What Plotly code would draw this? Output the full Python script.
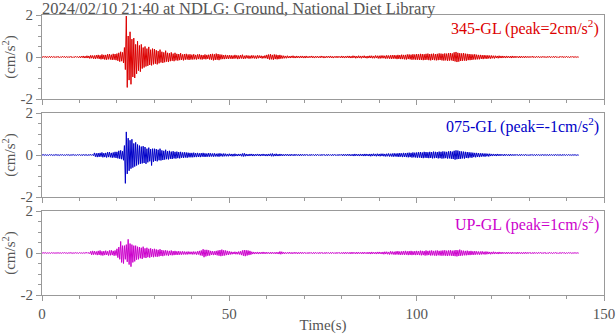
import plotly.graph_objects as go
from plotly.subplots import make_subplots

TITLE = '2024/02/10 21:40 at NDLG: Ground, National Diet Library'
DT = 0.5  # s, each value below is the max (upper) / min (lower) of one 0.5 s window

# 345-GL component (cm/s^2)
upper_345 = [
    0.02, 0.03, 0.03, 0.02, 0.03, 0.03, 0.02, 0.02, 0.03, 0.02, 0.02, 0.03, 0.03, 0.02, 0.02, 0.03, 0.02, 0.02, 0.03, 0.02,
    0.03, 0.04, 0.05, 0.04, 0.06, 0.05, 0.08, 0.07, 0.07, 0.09, 0.10, 0.08, 0.12, 0.10, 0.10, 0.13, 0.14, 0.11, 0.15, 0.14,
    0.16, 0.20, 0.25, 0.22, 0.45, 1.95, 1.00, 1.20, 0.85, 0.90, 0.60, 0.75, 0.55, 0.60, 0.45, 0.50, 0.40, 0.48, 0.35, 0.40,
    0.38, 0.32, 0.28, 0.35, 0.25, 0.22, 0.30, 0.20, 0.18, 0.22, 0.16, 0.20, 0.15, 0.14, 0.18, 0.12, 0.14, 0.15, 0.12, 0.13,
    0.11, 0.13, 0.10, 0.12, 0.13, 0.10, 0.09, 0.12, 0.10, 0.11, 0.14, 0.15, 0.13, 0.16, 0.14, 0.12, 0.11, 0.09, 0.10, 0.08,
    0.09, 0.08, 0.07, 0.10, 0.08, 0.07, 0.09, 0.11, 0.06, 0.08, 0.07, 0.06, 0.08, 0.07, 0.06, 0.08, 0.07, 0.06, 0.05, 0.07,
    0.10, 0.12, 0.13, 0.10, 0.12, 0.11, 0.09, 0.10, 0.07, 0.06, 0.05, 0.06, 0.04, 0.05, 0.06, 0.04, 0.05, 0.04, 0.05, 0.05,
    0.04, 0.05, 0.03, 0.04, 0.05, 0.03, 0.04, 0.04, 0.03, 0.05, 0.04, 0.03, 0.04, 0.04, 0.05, 0.03, 0.03, 0.04, 0.04, 0.03,
    0.05, 0.04, 0.04, 0.05, 0.05, 0.04, 0.06, 0.05, 0.04, 0.06, 0.05, 0.05, 0.06, 0.04, 0.05, 0.06, 0.06, 0.05, 0.07, 0.06,
    0.06, 0.07, 0.07, 0.06, 0.08, 0.07, 0.08, 0.09, 0.09, 0.08, 0.10, 0.09, 0.11, 0.10, 0.10, 0.12, 0.12, 0.11, 0.13, 0.12,
    0.14, 0.13, 0.15, 0.14, 0.13, 0.15, 0.16, 0.14, 0.15, 0.16, 0.14, 0.15, 0.17, 0.16, 0.15, 0.17, 0.16, 0.18, 0.19, 0.17,
    0.22, 0.24, 0.20, 0.18, 0.17, 0.19, 0.16, 0.15, 0.14, 0.13, 0.12, 0.13, 0.11, 0.10, 0.10, 0.09, 0.09, 0.08, 0.08, 0.07,
    0.07, 0.06, 0.06, 0.05, 0.06, 0.05, 0.05, 0.04, 0.05, 0.04, 0.04, 0.05, 0.04, 0.04, 0.03, 0.04, 0.04, 0.03, 0.04, 0.03,
    0.03, 0.03, 0.04, 0.02, 0.03, 0.03, 0.02, 0.03, 0.03, 0.02, 0.03, 0.03, 0.02, 0.03, 0.03, 0.02, 0.02, 0.03, 0.03, 0.02,
    0.03, 0.02, 0.02, 0.03, 0.02, 0.02, 0.01,
]
lower_345 = [
    -0.02, -0.02, -0.03, -0.02, -0.03, -0.02, -0.02, -0.03, -0.02, -0.03, -0.02, -0.02, -0.03, -0.02, -0.03, -0.02, -0.03, -0.02, -0.02, -0.03,
    -0.04, -0.03, -0.05, -0.05, -0.05, -0.07, -0.06, -0.08, -0.09, -0.07, -0.09, -0.11, -0.10, -0.12, -0.13, -0.11, -0.12, -0.14, -0.13, -0.15,
    -0.18, -0.22, -0.20, -0.28, -0.60, -1.45, -1.10, -1.30, -0.95, -1.00, -0.80, -0.65, -0.70, -0.55, -0.50, -0.45, -0.42, -0.38, -0.40, -0.35,
    -0.32, -0.35, -0.30, -0.26, -0.28, -0.25, -0.22, -0.24, -0.20, -0.18, -0.20, -0.16, -0.17, -0.15, -0.14, -0.16, -0.13, -0.12, -0.14, -0.12,
    -0.12, -0.11, -0.12, -0.10, -0.11, -0.12, -0.10, -0.11, -0.09, -0.12, -0.13, -0.16, -0.14, -0.13, -0.15, -0.11, -0.10, -0.10, -0.09, -0.09,
    -0.08, -0.09, -0.08, -0.07, -0.10, -0.08, -0.07, -0.09, -0.08, -0.06, -0.08, -0.07, -0.06, -0.07, -0.08, -0.06, -0.05, -0.07, -0.06, -0.06,
    -0.09, -0.12, -0.11, -0.13, -0.10, -0.11, -0.10, -0.08, -0.07, -0.06, -0.06, -0.05, -0.05, -0.04, -0.05, -0.05, -0.04, -0.05, -0.04, -0.05,
    -0.05, -0.04, -0.04, -0.03, -0.04, -0.05, -0.03, -0.04, -0.04, -0.03, -0.05, -0.04, -0.03, -0.04, -0.04, -0.05, -0.03, -0.04, -0.03, -0.04,
    -0.04, -0.05, -0.04, -0.04, -0.05, -0.05, -0.04, -0.06, -0.05, -0.05, -0.06, -0.04, -0.05, -0.06, -0.05, -0.05, -0.06, -0.06, -0.05, -0.07,
    -0.07, -0.06, -0.06, -0.08, -0.07, -0.08, -0.09, -0.08, -0.08, -0.10, -0.09, -0.10, -0.10, -0.11, -0.12, -0.10, -0.11, -0.13, -0.12, -0.13,
    -0.13, -0.14, -0.14, -0.15, -0.14, -0.13, -0.15, -0.16, -0.14, -0.15, -0.16, -0.15, -0.14, -0.16, -0.17, -0.16, -0.18, -0.17, -0.16, -0.19,
    -0.21, -0.24, -0.22, -0.19, -0.18, -0.17, -0.18, -0.15, -0.15, -0.14, -0.12, -0.12, -0.11, -0.11, -0.09, -0.10, -0.08, -0.09, -0.07, -0.08,
    -0.06, -0.07, -0.05, -0.06, -0.05, -0.05, -0.04, -0.05, -0.04, -0.04, -0.05, -0.04, -0.04, -0.03, -0.04, -0.04, -0.03, -0.04, -0.03, -0.03,
    -0.03, -0.02, -0.03, -0.03, -0.02, -0.03, -0.03, -0.02, -0.03, -0.03, -0.02, -0.03, -0.02, -0.03, -0.02, -0.03, -0.02, -0.02, -0.03, -0.02,
    -0.02, -0.03, -0.02, -0.02, -0.02, -0.02, -0.01,
]

# 075-GL component
upper_075 = [
    0.02, 0.02, 0.02, 0.01, 0.02, 0.02, 0.01, 0.02, 0.02, 0.01, 0.02, 0.02, 0.01, 0.02, 0.02, 0.01, 0.02, 0.02, 0.01, 0.02,
    0.02, 0.02, 0.03, 0.02, 0.02, 0.03, 0.03, 0.02, 0.10, 0.08, 0.09, 0.10, 0.12, 0.09, 0.10, 0.13, 0.14, 0.10, 0.12, 0.15,
    0.15, 0.20, 0.22, 0.18, 0.45, 1.10, 0.80, 0.70, 0.75, 0.55, 0.60, 0.50, 0.45, 0.40, 0.42, 0.38, 0.30, 0.35, 0.28, 0.30,
    0.30, 0.28, 0.25, 0.30, 0.22, 0.20, 0.25, 0.18, 0.20, 0.16, 0.18, 0.15, 0.16, 0.14, 0.15, 0.12, 0.13, 0.12, 0.11, 0.10,
    0.10, 0.11, 0.09, 0.10, 0.08, 0.09, 0.10, 0.08, 0.07, 0.09, 0.08, 0.07, 0.08, 0.06, 0.07, 0.08, 0.06, 0.07, 0.06, 0.05,
    0.06, 0.05, 0.05, 0.06, 0.04, 0.05, 0.05, 0.07, 0.08, 0.05, 0.04, 0.05, 0.05, 0.04, 0.04, 0.05, 0.04, 0.04, 0.05, 0.04,
    0.04, 0.05, 0.06, 0.07, 0.05, 0.06, 0.04, 0.05, 0.04, 0.03, 0.04, 0.04, 0.03, 0.04, 0.03, 0.04, 0.03, 0.03, 0.04, 0.03,
    0.03, 0.03, 0.02, 0.03, 0.03, 0.02, 0.03, 0.03, 0.02, 0.03, 0.03, 0.02, 0.03, 0.03, 0.02, 0.03, 0.03, 0.02, 0.03, 0.03,
    0.03, 0.04, 0.03, 0.04, 0.04, 0.03, 0.04, 0.05, 0.04, 0.04, 0.05, 0.04, 0.05, 0.05, 0.04, 0.05, 0.05, 0.06, 0.05, 0.06,
    0.05, 0.06, 0.06, 0.05, 0.06, 0.07, 0.06, 0.07, 0.08, 0.07, 0.08, 0.09, 0.08, 0.10, 0.09, 0.10, 0.11, 0.10, 0.12, 0.11,
    0.12, 0.13, 0.14, 0.12, 0.15, 0.14, 0.13, 0.15, 0.14, 0.16, 0.15, 0.14, 0.16, 0.15, 0.17, 0.16, 0.15, 0.17, 0.18, 0.16,
    0.20, 0.22, 0.21, 0.18, 0.17, 0.16, 0.15, 0.14, 0.13, 0.12, 0.11, 0.10, 0.10, 0.09, 0.08, 0.08, 0.07, 0.07, 0.06, 0.06,
    0.05, 0.05, 0.04, 0.05, 0.04, 0.04, 0.03, 0.04, 0.03, 0.03, 0.04, 0.03, 0.03, 0.03, 0.02, 0.03, 0.03, 0.02, 0.03, 0.02,
    0.02, 0.03, 0.02, 0.02, 0.03, 0.02, 0.02, 0.03, 0.02, 0.02, 0.02, 0.03, 0.02, 0.02, 0.03, 0.02, 0.02, 0.02, 0.03, 0.02,
    0.02, 0.02, 0.01, 0.02, 0.02, 0.01, 0.01,
]
lower_075 = [
    -0.01, -0.02, -0.02, -0.02, -0.01, -0.02, -0.02, -0.01, -0.02, -0.02, -0.01, -0.02, -0.02, -0.01, -0.02, -0.02, -0.01, -0.02, -0.02, -0.01,
    -0.02, -0.03, -0.02, -0.02, -0.03, -0.02, -0.02, -0.03, -0.08, -0.10, -0.09, -0.08, -0.11, -0.10, -0.12, -0.10, -0.11, -0.13, -0.12, -0.14,
    -0.16, -0.18, -0.20, -0.25, -1.35, -0.90, -0.75, -0.65, -0.60, -0.55, -0.50, -0.45, -0.42, -0.40, -0.38, -0.42, -0.35, -0.30, -0.50, -0.32,
    -0.28, -0.30, -0.25, -0.26, -0.24, -0.22, -0.20, -0.21, -0.18, -0.19, -0.16, -0.17, -0.15, -0.16, -0.13, -0.14, -0.12, -0.13, -0.11, -0.11,
    -0.11, -0.10, -0.10, -0.09, -0.10, -0.08, -0.09, -0.09, -0.08, -0.08, -0.07, -0.08, -0.07, -0.07, -0.08, -0.06, -0.07, -0.06, -0.06, -0.06,
    -0.05, -0.06, -0.06, -0.05, -0.05, -0.04, -0.06, -0.07, -0.06, -0.05, -0.05, -0.04, -0.05, -0.05, -0.04, -0.04, -0.05, -0.04, -0.04, -0.05,
    -0.05, -0.04, -0.06, -0.06, -0.05, -0.05, -0.05, -0.04, -0.04, -0.04, -0.03, -0.04, -0.04, -0.03, -0.04, -0.03, -0.03, -0.04, -0.03, -0.03,
    -0.03, -0.02, -0.03, -0.03, -0.02, -0.03, -0.03, -0.02, -0.03, -0.03, -0.02, -0.03, -0.03, -0.02, -0.03, -0.03, -0.02, -0.03, -0.03, -0.02,
    -0.04, -0.03, -0.04, -0.03, -0.04, -0.04, -0.05, -0.04, -0.04, -0.05, -0.04, -0.05, -0.05, -0.04, -0.05, -0.06, -0.05, -0.05, -0.06, -0.05,
    -0.06, -0.05, -0.06, -0.07, -0.06, -0.07, -0.07, -0.08, -0.07, -0.08, -0.09, -0.08, -0.10, -0.09, -0.10, -0.11, -0.10, -0.12, -0.11, -0.12,
    -0.13, -0.12, -0.14, -0.15, -0.13, -0.14, -0.15, -0.14, -0.16, -0.15, -0.14, -0.16, -0.15, -0.17, -0.16, -0.15, -0.17, -0.16, -0.18, -0.19,
    -0.22, -0.20, -0.19, -0.18, -0.16, -0.17, -0.14, -0.15, -0.12, -0.13, -0.10, -0.11, -0.09, -0.10, -0.08, -0.07, -0.08, -0.06, -0.07, -0.05,
    -0.05, -0.04, -0.05, -0.04, -0.04, -0.03, -0.04, -0.03, -0.03, -0.04, -0.03, -0.03, -0.03, -0.02, -0.03, -0.03, -0.02, -0.03, -0.02, -0.03,
    -0.03, -0.02, -0.02, -0.03, -0.02, -0.02, -0.03, -0.02, -0.02, -0.02, -0.03, -0.02, -0.02, -0.03, -0.02, -0.02, -0.02, -0.03, -0.02, -0.02,
    -0.02, -0.01, -0.02, -0.02, -0.01, -0.02, -0.01,
]

# UP-GL component
upper_up = [
    0.01, 0.02, 0.02, 0.01, 0.01, 0.02, 0.01, 0.01, 0.02, 0.01, 0.01, 0.02, 0.02, 0.01, 0.01, 0.02, 0.01, 0.01, 0.02, 0.01,
    0.02, 0.01, 0.02, 0.02, 0.03, 0.02, 0.08, 0.10, 0.09, 0.07, 0.10, 0.12, 0.08, 0.09, 0.11, 0.08, 0.12, 0.13, 0.10, 0.12,
    0.20, 0.28, 0.55, 0.35, 0.35, 0.40, 0.65, 0.45, 0.40, 0.35, 0.35, 0.30, 0.28, 0.25, 0.30, 0.22, 0.25, 0.20, 0.22, 0.18,
    0.20, 0.17, 0.15, 0.18, 0.14, 0.12, 0.13, 0.11, 0.10, 0.12, 0.09, 0.10, 0.08, 0.09, 0.07, 0.08, 0.07, 0.06, 0.07, 0.06,
    0.06, 0.07, 0.06, 0.08, 0.10, 0.12, 0.18, 0.15, 0.15, 0.13, 0.10, 0.09, 0.08, 0.10, 0.12, 0.14, 0.16, 0.13, 0.12, 0.10,
    0.08, 0.06, 0.05, 0.06, 0.05, 0.07, 0.08, 0.12, 0.14, 0.13, 0.12, 0.10, 0.06, 0.05, 0.04, 0.05, 0.04, 0.04, 0.05, 0.04,
    0.04, 0.03, 0.04, 0.04, 0.03, 0.04, 0.04, 0.07, 0.06, 0.04, 0.03, 0.03, 0.04, 0.03, 0.03, 0.04, 0.03, 0.03, 0.04, 0.03,
    0.03, 0.02, 0.03, 0.03, 0.02, 0.03, 0.03, 0.02, 0.03, 0.03, 0.02, 0.03, 0.03, 0.02, 0.03, 0.03, 0.02, 0.03, 0.03, 0.02,
    0.03, 0.03, 0.04, 0.03, 0.03, 0.04, 0.04, 0.03, 0.04, 0.04, 0.03, 0.04, 0.04, 0.03, 0.04, 0.04, 0.05, 0.04, 0.04, 0.05,
    0.05, 0.04, 0.05, 0.06, 0.06, 0.05, 0.08, 0.07, 0.06, 0.08, 0.09, 0.07, 0.08, 0.09, 0.10, 0.08, 0.09, 0.10, 0.08, 0.09,
    0.10, 0.09, 0.11, 0.10, 0.09, 0.12, 0.10, 0.11, 0.12, 0.10, 0.11, 0.12, 0.10, 0.11, 0.12, 0.13, 0.11, 0.12, 0.13, 0.11,
    0.12, 0.14, 0.13, 0.16, 0.12, 0.11, 0.10, 0.11, 0.09, 0.10, 0.08, 0.09, 0.08, 0.07, 0.07, 0.08, 0.06, 0.07, 0.06, 0.05,
    0.05, 0.06, 0.05, 0.04, 0.05, 0.04, 0.04, 0.03, 0.04, 0.04, 0.03, 0.04, 0.03, 0.03, 0.04, 0.03, 0.03, 0.03, 0.04, 0.03,
    0.03, 0.02, 0.03, 0.03, 0.02, 0.03, 0.03, 0.02, 0.03, 0.02, 0.02, 0.03, 0.02, 0.02, 0.03, 0.02, 0.02, 0.02, 0.03, 0.02,
    0.02, 0.02, 0.02, 0.01, 0.02, 0.01, 0.01,
]
lower_up = [
    -0.01, -0.01, -0.02, -0.01, -0.02, -0.01, -0.01, -0.02, -0.01, -0.01, -0.02, -0.01, -0.01, -0.02, -0.01, -0.01, -0.02, -0.01, -0.01, -0.02,
    -0.01, -0.02, -0.02, -0.01, -0.02, -0.03, -0.09, -0.08, -0.07, -0.10, -0.09, -0.11, -0.12, -0.10, -0.09, -0.12, -0.11, -0.10, -0.13, -0.12,
    -0.22, -0.30, -0.45, -0.50, -0.30, -0.42, -0.55, -0.65, -0.45, -0.40, -0.32, -0.30, -0.25, -0.28, -0.22, -0.24, -0.20, -0.22, -0.18, -0.20,
    -0.17, -0.18, -0.16, -0.14, -0.15, -0.12, -0.11, -0.13, -0.10, -0.11, -0.10, -0.09, -0.09, -0.08, -0.08, -0.07, -0.07, -0.07, -0.06, -0.06,
    -0.07, -0.06, -0.08, -0.07, -0.11, -0.13, -0.20, -0.16, -0.13, -0.12, -0.09, -0.10, -0.09, -0.11, -0.13, -0.15, -0.13, -0.12, -0.10, -0.09,
    -0.07, -0.06, -0.05, -0.06, -0.06, -0.07, -0.10, -0.13, -0.15, -0.12, -0.10, -0.08, -0.05, -0.05, -0.04, -0.05, -0.04, -0.04, -0.04, -0.04,
    -0.03, -0.04, -0.04, -0.03, -0.04, -0.04, -0.05, -0.06, -0.04, -0.04, -0.03, -0.03, -0.03, -0.04, -0.03, -0.03, -0.04, -0.03, -0.03, -0.03,
    -0.02, -0.03, -0.03, -0.02, -0.03, -0.03, -0.02, -0.03, -0.03, -0.02, -0.03, -0.03, -0.02, -0.03, -0.03, -0.02, -0.03, -0.03, -0.02, -0.03,
    -0.03, -0.04, -0.03, -0.03, -0.04, -0.04, -0.03, -0.04, -0.04, -0.03, -0.04, -0.04, -0.03, -0.04, -0.04, -0.05, -0.04, -0.04, -0.05, -0.04,
    -0.04, -0.05, -0.06, -0.05, -0.06, -0.07, -0.06, -0.07, -0.08, -0.07, -0.08, -0.09, -0.08, -0.09, -0.08, -0.10, -0.09, -0.10, -0.09, -0.10,
    -0.09, -0.10, -0.11, -0.10, -0.12, -0.11, -0.10, -0.12, -0.11, -0.12, -0.13, -0.11, -0.12, -0.13, -0.12, -0.13, -0.14, -0.12, -0.13, -0.14,
    -0.15, -0.16, -0.14, -0.13, -0.12, -0.11, -0.11, -0.10, -0.10, -0.09, -0.09, -0.08, -0.07, -0.08, -0.07, -0.06, -0.07, -0.06, -0.05, -0.06,
    -0.05, -0.05, -0.04, -0.05, -0.04, -0.04, -0.03, -0.04, -0.04, -0.03, -0.04, -0.03, -0.03, -0.04, -0.03, -0.03, -0.04, -0.03, -0.03, -0.03,
    -0.02, -0.03, -0.03, -0.02, -0.03, -0.02, -0.02, -0.03, -0.02, -0.03, -0.02, -0.02, -0.03, -0.02, -0.02, -0.03, -0.02, -0.02, -0.02, -0.03,
    -0.02, -0.01, -0.02, -0.02, -0.01, -0.01, -0.01,
]

components = [
    ('345-GL (peak=2cm/s<sup>2</sup>)', upper_345, lower_345, '#dc0000'),
    ('075-GL (peak=-1cm/s<sup>2</sup>)', upper_075, lower_075, '#0000c8'),
    ('UP-GL (peak=1cm/s<sup>2</sup>)', upper_up, lower_up, '#cc00cc'),
]

FONT = 'Liberation Serif, Times New Roman, serif'
TEXT_GRAY = '#555555'
AXIS_GRAY = '#999999'

fig = make_subplots(rows=3, cols=1, shared_xaxes=True, vertical_spacing=0.05)

for i, (label, upper, lower, color) in enumerate(components, start=1):
    # max then min of every window, so the trace swings across the whole band
    t, acc = [], []
    for k in range(len(upper)):
        t += [k * DT, k * DT + DT / 2]
        acc += [upper[k], lower[k]]
    fig.add_trace(
        go.Scatter(x=t, y=acc, mode='lines', line=dict(color=color, width=1), showlegend=False),
        row=i, col=1
    )
    yref = 'y domain' if i == 1 else f'y{i} domain'
    fig.add_annotation(
        text=label, xref='x domain', yref=yref, x=0.995, y=1.0,
        xanchor='right', yanchor='top', showarrow=False,
        font=dict(family=FONT, size=16, color=color)
    )
    # unit label, placed by hand to sit close to the page edge like the original
    fig.add_annotation(
        text='(cm/s<sup>2</sup>)', xref='x domain', yref=yref, x=-0.059, y=0.5,
        xanchor='center', yanchor='middle', textangle=-90, showarrow=False,
        font=dict(family=FONT, size=15, color=TEXT_GRAY)
    )
    fig.update_yaxes(
        range=[-2, 2], tickvals=[-2, 0, 2], ticktext=['-2', '0', '2'],
        ticks='outside', ticklen=5, tickcolor=AXIS_GRAY, tickfont=dict(size=15),
        minor=dict(dtick=0.5, ticks='outside', ticklen=3, tickcolor=AXIS_GRAY),
        showline=True, linecolor=AXIS_GRAY, mirror=True, showgrid=False, zeroline=False,
        automargin=False,
        row=i, col=1
    )

fig.update_xaxes(
    range=[0, 150], dtick=50, ticks='outside', ticklen=5, tickcolor=AXIS_GRAY, tickfont=dict(size=15),
    minor=dict(dtick=10, ticks='outside', ticklen=3, tickcolor=AXIS_GRAY),
    showline=True, linecolor=AXIS_GRAY, mirror=True, showgrid=False, zeroline=False,
    automargin=False
)
fig.update_xaxes(
    title=dict(text='Time(s)', standoff=0, font=dict(family=FONT, size=15, color=TEXT_GRAY)),
    row=3, col=1
)

fig.update_layout(
    width=616, height=334,
    margin=dict(l=42, r=12, t=15, b=39),
    plot_bgcolor='white', paper_bgcolor='white',
    font=dict(family=FONT, size=14, color=TEXT_GRAY),
    title=dict(text=TITLE, x=42 / 616, xanchor='left', y=1 - 8.5 / 334, yanchor='middle',
               pad=dict(t=0, b=0), font=dict(family=FONT, size=16.5, color=TEXT_GRAY)),
)

# drop the browser's default 8px body margin so the figure sits at the page corner
fig.write_html('out.html', config={'displayModeBar': False},
               post_script="document.body.style.margin='0';")
